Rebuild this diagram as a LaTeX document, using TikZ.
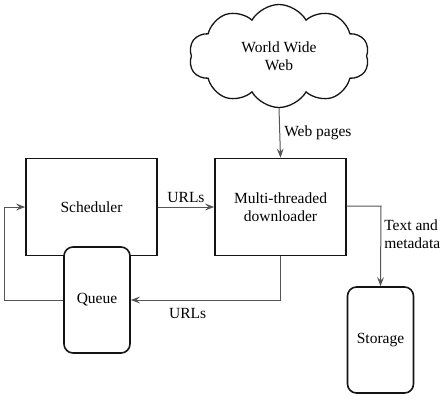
\documentclass[tikz,border=0pt]{standalone}
\usepackage{fontspec}
\setmainfont{Liberation Serif}
\usetikzlibrary{positioning,arrows.meta,shapes.symbols}
\definecolor{boxLine}{RGB}{20,20,20}
\definecolor{flowLine}{RGB}{85,85,85}

\begin{document}
\begin{tikzpicture}[x=1pt,y=-1pt,font=\fontsize{15.5}{17.5}\selectfont,>={Stealth[length=3.2mm,width=2.4mm,inset=1.2mm]},
  unit/.style ={draw=boxLine,line width=1.6pt,align=center,minimum width=131pt,minimum height=97pt,inner sep=2pt},
  store/.style={draw=boxLine,line width=1.6pt,rounded corners=9pt,fill=white,align=center,minimum width=66pt,minimum height=106pt,inner sep=2pt},
  web/.style  ={draw=boxLine,line width=1.3pt,cloud,cloud puffs=10,cloud puff arc=120,aspect=1.8,align=center,minimum width=180pt,minimum height=103pt,inner sep=0pt},
  flow/.style ={->,line width=1pt,flowLine},
  lbl/.style  ={inner sep=1pt,align=left,text=black}]
\useasboundingbox (0,0) rectangle (442,416);
% main blocks
\node[web]   (www)   at (279,56)   {World Wide\\Web};
\node[unit]  (sched) at (91.5,207) {Scheduler};
\node[unit]  (dl)    at (280.5,207){Multi-threaded\\downloader};
\node[store] (queue) at (97,300)   {Queue};
\node[store] (disk)  at (380.5,340){Storage};
\coordinate (back) at (4,300);
\coordinate (side) at (381,206);
% connectors
\draw[flow] (www.south) -- node[lbl,right=3pt]{Web pages} (dl.north);
\draw[flow] (sched.east) -- node[lbl,above=3pt]{URLs} (dl.west);
\draw[flow] (dl.south) |- node[lbl,pos=0.81,below=7pt]{URLs} (queue.east);
\draw[flow] (queue.west) -- (back) |- (sched.west);
\draw[flow] (dl.east |- side) -- (side) -- node[lbl,pos=0.35,right=2pt]{Text and\\metadata} (disk.north);
\end{tikzpicture}
\end{document}
